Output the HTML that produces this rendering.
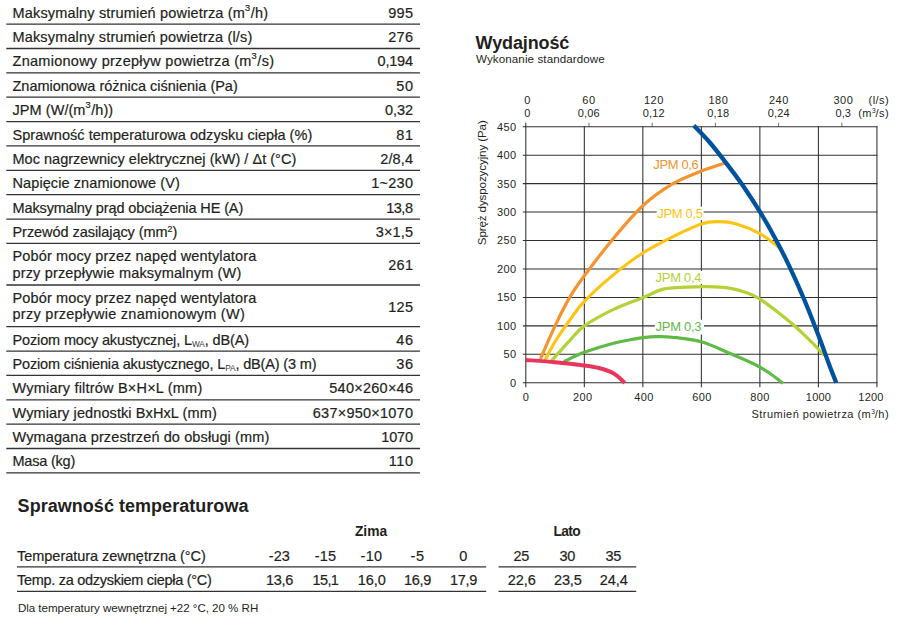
<!DOCTYPE html>
<html lang="pl"><head><meta charset="utf-8"><title>Dane techniczne</title>
<style>
html,body{margin:0;padding:0;background:#fff;}
body{width:899px;height:622px;position:relative;overflow:hidden;font-family:"Liberation Sans", sans-serif;color:#231f20;}
.t{position:absolute;white-space:nowrap;line-height:1;margin:0;padding:0;}
.m{-webkit-text-stroke:0.2px currentColor;}
.hl{position:absolute;height:0;border-top:1.5px solid #454343;}
.sp{font-size:64%;position:relative;top:-0.74em;letter-spacing:0;margin-right:0.6px;}
.sp2{font-size:60%;position:relative;top:-0.62em;letter-spacing:0;}
.sb{font-size:57%;position:relative;top:0.28em;letter-spacing:-0.1px;-webkit-text-stroke:0;color:#3c3a3a;}
.chart{position:absolute;left:0;top:0;}
.bg{background:#fff;}
</style></head><body>
<svg class="chart" width="899" height="622" viewBox="0 0 899 622" stroke="#343232" stroke-width="1.3">
<line x1="6.3" y1="24.10" x2="420" y2="24.10"/>
<line x1="6.3" y1="48.50" x2="420" y2="48.50"/>
<line x1="6.3" y1="72.80" x2="420" y2="72.80"/>
<line x1="6.3" y1="97.20" x2="420" y2="97.20"/>
<line x1="6.3" y1="121.60" x2="420" y2="121.60"/>
<line x1="6.3" y1="145.95" x2="420" y2="145.95"/>
<line x1="6.3" y1="170.30" x2="420" y2="170.30"/>
<line x1="6.3" y1="194.70" x2="420" y2="194.70"/>
<line x1="6.3" y1="219.10" x2="420" y2="219.10"/>
<line x1="6.3" y1="243.40" x2="420" y2="243.40"/>
<line x1="6.3" y1="285.00" x2="420" y2="285.00"/>
<line x1="6.3" y1="326.60" x2="420" y2="326.60"/>
<line x1="6.3" y1="351.05" x2="420" y2="351.05"/>
<line x1="6.3" y1="375.40" x2="420" y2="375.40"/>
<line x1="6.3" y1="399.80" x2="420" y2="399.80"/>
<line x1="6.3" y1="424.20" x2="420" y2="424.20"/>
<line x1="6.3" y1="448.50" x2="420" y2="448.50"/>
<line x1="6.3" y1="472.90" x2="420" y2="472.90"/>
<line x1="17" y1="566.80" x2="486.2" y2="566.80"/>
<line x1="498.5" y1="566.80" x2="636.2" y2="566.80"/>
<line x1="17" y1="591.35" x2="486.2" y2="591.35"/>
<line x1="498.5" y1="591.35" x2="636.2" y2="591.35"/>
</svg>
<svg class="chart" width="899" height="622" viewBox="0 0 899 622">
<line x1="525.80" y1="122.70" x2="525.80" y2="387.25" stroke="#302f2f" stroke-width="1.05"/>
<line x1="584.32" y1="126.20" x2="584.32" y2="387.25" stroke="#302f2f" stroke-width="1.05"/>
<line x1="642.84" y1="126.20" x2="642.84" y2="387.25" stroke="#302f2f" stroke-width="1.05"/>
<line x1="701.36" y1="126.20" x2="701.36" y2="387.25" stroke="#302f2f" stroke-width="1.05"/>
<line x1="759.88" y1="126.20" x2="759.88" y2="387.25" stroke="#302f2f" stroke-width="1.05"/>
<line x1="818.40" y1="126.20" x2="818.40" y2="387.25" stroke="#302f2f" stroke-width="1.05"/>
<line x1="876.92" y1="126.20" x2="876.92" y2="387.25" stroke="#302f2f" stroke-width="1.05"/>
<line x1="522.80" y1="382.75" x2="877.42" y2="382.75" stroke="#302f2f" stroke-width="1.05"/>
<line x1="522.80" y1="354.30" x2="877.42" y2="354.30" stroke="#302f2f" stroke-width="1.05"/>
<line x1="522.80" y1="325.85" x2="877.42" y2="325.85" stroke="#302f2f" stroke-width="1.05"/>
<line x1="522.80" y1="297.40" x2="877.42" y2="297.40" stroke="#302f2f" stroke-width="1.05"/>
<line x1="522.80" y1="268.95" x2="877.42" y2="268.95" stroke="#302f2f" stroke-width="1.05"/>
<line x1="522.80" y1="240.50" x2="877.42" y2="240.50" stroke="#302f2f" stroke-width="1.05"/>
<line x1="522.80" y1="212.05" x2="877.42" y2="212.05" stroke="#302f2f" stroke-width="1.05"/>
<line x1="522.80" y1="183.60" x2="877.42" y2="183.60" stroke="#302f2f" stroke-width="1.05"/>
<line x1="522.80" y1="155.15" x2="877.42" y2="155.15" stroke="#302f2f" stroke-width="1.05"/>
<line x1="522.80" y1="126.70" x2="877.42" y2="126.70" stroke="#302f2f" stroke-width="1.05"/>
<line x1="589.00" y1="122.70" x2="589.00" y2="126.70" stroke="#302f2f" stroke-width="0.7"/>
<line x1="652.20" y1="122.70" x2="652.20" y2="126.70" stroke="#302f2f" stroke-width="0.7"/>
<line x1="715.40" y1="122.70" x2="715.40" y2="126.70" stroke="#302f2f" stroke-width="0.7"/>
<line x1="778.61" y1="122.70" x2="778.61" y2="126.70" stroke="#302f2f" stroke-width="0.7"/>
<line x1="841.81" y1="122.70" x2="841.81" y2="126.70" stroke="#302f2f" stroke-width="0.7"/>
<rect x="656.7" y="206.6" width="47.0" height="13.5" fill="#fff"/>
<rect x="654.8" y="270.9" width="49.2" height="12.9" fill="#fff"/>
<rect x="654.8" y="319.8" width="49.2" height="14.8" fill="#fff"/>
<path d="M563.84 361.70 C567.25 360.13 576.03 355.39 584.32 352.31 C592.61 349.23 605.63 345.34 613.58 343.20 C621.53 341.07 627.14 340.44 632.01 339.51 C636.89 338.58 638.60 338.10 642.84 337.63 C647.08 337.15 652.59 336.73 657.47 336.66 C662.35 336.59 664.78 336.38 672.10 337.23 C679.41 338.08 691.61 339.03 701.36 341.78 C711.11 344.53 721.84 350.03 730.62 353.73 C739.40 357.43 747.69 360.84 754.03 363.97 C760.37 367.10 763.83 369.28 768.66 372.51 C773.49 375.73 780.61 381.52 783.00 383.32" fill="none" stroke="#5fba46" stroke-width="3.20" stroke-linecap="butt" stroke-linejoin="round"/>
<path d="M551.26 361.13 C554.33 357.71 564.18 346.52 569.69 340.64 C575.20 334.76 577.00 331.07 584.32 325.85 C591.63 320.63 603.83 314.04 613.58 309.35 C623.33 304.65 634.55 301.05 642.84 297.68 C651.13 294.32 656.01 290.90 663.32 289.15 C670.64 287.40 679.41 287.58 686.73 287.16 C694.05 286.73 699.90 286.40 707.21 286.59 C714.53 286.78 724.28 287.35 730.62 288.30 C736.96 289.24 740.37 290.48 745.25 292.28 C750.13 294.08 752.57 294.27 759.88 299.11 C767.19 303.94 780.85 314.47 789.14 321.30 C797.43 328.13 803.77 334.38 809.62 340.07 C815.47 345.76 821.81 352.88 824.25 355.44" fill="none" stroke="#b2d235" stroke-width="3.20" stroke-linecap="butt" stroke-linejoin="round"/>
<path d="M545.11 359.99 C546.77 356.96 550.96 348.42 555.06 341.78 C559.16 335.14 564.81 326.89 569.69 320.16 C574.57 313.43 577.00 308.97 584.32 301.38 C591.63 293.80 603.83 282.70 613.58 274.64 C623.33 266.58 633.09 259.28 642.84 253.02 C652.59 246.76 662.35 241.92 672.10 237.09 C681.85 232.25 693.56 226.56 701.36 224.00 C709.16 221.44 713.06 221.72 718.92 221.72 C724.77 221.72 729.64 222.01 736.47 224.00 C743.30 225.99 752.57 229.59 759.88 233.67 C767.19 237.75 776.95 246.00 780.36 248.47" fill="none" stroke="#ffc413" stroke-width="3.20" stroke-linecap="butt" stroke-linejoin="round"/>
<path d="M540.43 358.85 C542.87 353.35 550.18 336.09 555.06 325.85 C559.94 315.61 564.81 305.75 569.69 297.40 C574.57 289.05 577.00 285.64 584.32 275.78 C591.63 265.92 603.83 249.89 613.58 238.22 C623.33 226.56 633.09 214.80 642.84 205.79 C652.59 196.78 662.35 189.95 672.10 184.17 C681.85 178.38 692.24 174.69 701.36 171.08 C710.48 167.48 722.57 163.97 726.82 162.55" fill="none" stroke="#f4932f" stroke-width="3.20" stroke-linecap="butt" stroke-linejoin="round"/>
<path d="M693.75 125.56 C696.29 128.22 703.55 135.24 708.97 141.49 C714.38 147.75 720.48 155.62 726.23 163.12 C731.99 170.61 737.79 178.19 743.49 186.45 C749.20 194.70 755.25 204.08 760.47 212.62 C765.68 221.15 770.02 228.79 774.80 237.66 C779.58 246.52 784.31 255.67 789.14 265.82 C793.97 275.97 798.84 286.83 803.77 298.54 C808.70 310.25 814.50 325.19 818.69 336.09 C822.89 347.00 826.01 356.20 828.93 363.97 C831.86 371.75 835.03 379.62 836.25 382.75" fill="none" stroke="#00529f" stroke-width="4.30" stroke-linecap="butt" stroke-linejoin="round"/>
<path d="M525.80 359.99 C530.68 360.35 545.31 361.25 555.06 362.15 C564.81 363.05 577.00 364.43 584.32 365.40 C591.63 366.36 594.56 366.87 598.95 367.96 C603.34 369.05 607.48 370.52 610.65 371.94 C613.82 373.36 615.63 374.64 617.97 376.49 C620.31 378.34 623.58 381.94 624.70 383.03" fill="none" stroke="#e9345b" stroke-width="4.00" stroke-linecap="butt" stroke-linejoin="round"/>
</svg>
<div class="t m" id="t0" style="font-size:14.50px;top:6.00px;letter-spacing:0.166px;left:12.50px;">Maksymalny strumień powietrza (m<span class="sp">3</span>/h)</div>
<div class="t m" id="t1" style="font-size:14.50px;top:6.00px;letter-spacing:0.265px;right:485.74px;">995</div>
<div class="t m" id="t2" style="font-size:14.50px;top:30.00px;letter-spacing:0.154px;left:12.50px;">Maksymalny strumień powietrza (l/s)</div>
<div class="t m" id="t3" style="font-size:14.50px;top:30.00px;letter-spacing:0.265px;right:485.74px;">276</div>
<div class="t m" id="t4" style="font-size:14.50px;top:54.00px;letter-spacing:0.269px;left:12.50px;">Znamionowy przepływ powietrza (m<span class="sp">3</span>/s)</div>
<div class="t m" id="t5" style="font-size:14.50px;top:54.00px;letter-spacing:-0.216px;right:486.22px;">0,194</div>
<div class="t m" id="t6" style="font-size:14.50px;top:79.00px;letter-spacing:-0.013px;left:12.50px;">Znamionowa różnica ciśnienia (Pa)</div>
<div class="t m" id="t7" style="font-size:14.50px;top:79.00px;letter-spacing:0.592px;right:485.41px;">50</div>
<div class="t m" id="t8" style="font-size:14.50px;top:103.00px;letter-spacing:0.058px;left:12.50px;">JPM (W/(m<span class="sp">3</span>/h))</div>
<div class="t m" id="t9" style="font-size:14.50px;top:103.00px;letter-spacing:-0.101px;right:486.10px;">0,32</div>
<div class="t m" id="t10" style="font-size:14.50px;top:128.00px;letter-spacing:0.038px;left:12.50px;">Sprawność temperaturowa odzysku ciepła (%)</div>
<div class="t m" id="t11" style="font-size:14.50px;top:128.00px;letter-spacing:0.592px;right:485.41px;">81</div>
<div class="t m" id="t12" style="font-size:14.50px;top:152.00px;letter-spacing:0.018px;left:12.50px;">Moc nagrzewnicy elektrycznej (kW) / Δt (°C)</div>
<div class="t m" id="t13" style="font-size:14.50px;top:152.00px;letter-spacing:0.121px;right:485.88px;">2/8,4</div>
<div class="t m" id="t14" style="font-size:14.50px;top:176.00px;letter-spacing:0.092px;left:12.50px;">Napięcie znamionowe (V)</div>
<div class="t m" id="t15" style="font-size:14.50px;top:176.00px;letter-spacing:0.250px;right:485.75px;">1~230</div>
<div class="t m" id="t16" style="font-size:14.50px;top:201.00px;letter-spacing:-0.118px;left:12.50px;">Maksymalny prąd obciążenia HE (A)</div>
<div class="t m" id="t17" style="font-size:14.50px;top:201.00px;letter-spacing:-0.467px;right:486.47px;">13,8</div>
<div class="t m" id="t18" style="font-size:14.50px;top:225.00px;letter-spacing:-0.056px;left:12.50px;">Przewód zasilający (mm<span class="sp2">2</span>)</div>
<div class="t m" id="t19" style="font-size:14.50px;top:225.00px;letter-spacing:0.132px;right:485.87px;">3×1,5</div>
<div class="t m" id="t20" style="font-size:14.50px;top:249.00px;letter-spacing:0.132px;left:12.50px;">Pobór mocy przez napęd wentylatora</div>
<div class="t m" id="t21" style="font-size:14.50px;top:266.00px;letter-spacing:0.158px;left:12.50px;">przy przepływie maksymalnym (W)</div>
<div class="t m" id="t22" style="font-size:14.50px;top:258.00px;letter-spacing:0.265px;right:485.74px;">261</div>
<div class="t m" id="t23" style="font-size:14.50px;top:291.00px;letter-spacing:0.132px;left:12.50px;">Pobór mocy przez napęd wentylatora</div>
<div class="t m" id="t24" style="font-size:14.50px;top:307.00px;letter-spacing:0.274px;left:12.50px;">przy przepływie znamionowym (W)</div>
<div class="t m" id="t25" style="font-size:14.50px;top:300.00px;letter-spacing:0.265px;right:485.74px;">125</div>
<div class="t m" id="t26" style="font-size:14.50px;top:333.00px;letter-spacing:-0.136px;left:12.50px;">Poziom mocy akustycznej, L<span class="sb">WA</span>, dB(A)</div>
<div class="t m" id="t27" style="font-size:14.50px;top:333.00px;letter-spacing:0.592px;right:485.41px;">46</div>
<div class="t m" id="t28" style="font-size:14.50px;top:357.00px;letter-spacing:-0.154px;left:12.50px;">Poziom ciśnienia akustycznego, L<span class="sb">PA</span>, dB(A) (3 m)</div>
<div class="t m" id="t29" style="font-size:14.50px;top:357.00px;letter-spacing:0.592px;right:485.41px;">36</div>
<div class="t m" id="t30" style="font-size:14.50px;top:381.00px;letter-spacing:0.204px;left:12.50px;">Wymiary filtrów B×H×L (mm)</div>
<div class="t m" id="t31" style="font-size:14.50px;top:381.00px;letter-spacing:0.253px;right:485.75px;">540×260×46</div>
<div class="t m" id="t32" style="font-size:14.50px;top:406.00px;letter-spacing:0.099px;left:12.50px;">Wymiary jednostki BxHxL (mm)</div>
<div class="t m" id="t33" style="font-size:14.50px;top:406.00px;letter-spacing:0.241px;right:485.76px;">637×950×1070</div>
<div class="t m" id="t34" style="font-size:14.50px;top:430.00px;letter-spacing:0.112px;left:12.50px;">Wymagana przestrzeń do obsługi (mm)</div>
<div class="t m" id="t35" style="font-size:14.50px;top:430.00px;letter-spacing:-0.178px;right:486.18px;">1070</div>
<div class="t m" id="t36" style="font-size:14.50px;top:454.00px;letter-spacing:-0.217px;left:12.50px;">Masa (kg)</div>
<div class="t m" id="t37" style="font-size:14.50px;top:454.00px;letter-spacing:0.554px;right:485.45px;">110</div>
<div class="t" id="t38" style="font-size:18.00px;top:497.00px;font-weight:700;letter-spacing:0.035px;left:17.60px;">Sprawność temperaturowa</div>
<div class="t" id="t39" style="font-size:13.80px;top:525.00px;font-weight:700;letter-spacing:-0.010px;left:354.91px;">Zima</div>
<div class="t" id="t40" style="font-size:13.80px;top:525.00px;font-weight:700;letter-spacing:-0.651px;left:553.51px;">Lato</div>
<div class="t m" id="t41" style="font-size:14.50px;top:549.00px;letter-spacing:-0.027px;left:17.00px;">Temperatura zewnętrzna (°C)</div>
<div class="t m" id="t42" style="font-size:14.50px;top:573.00px;letter-spacing:-0.290px;left:17.00px;">Temp. za odzyskiem ciepła (°C)</div>
<div class="t m" id="t43" style="font-size:14.50px;top:549.00px;letter-spacing:0.132px;left:268.68px;">-23</div>
<div class="t m" id="t44" style="font-size:14.50px;top:573.00px;letter-spacing:-0.334px;left:266.08px;">13,6</div>
<div class="t m" id="t45" style="font-size:14.50px;top:549.00px;letter-spacing:0.182px;left:314.63px;">-15</div>
<div class="t m" id="t46" style="font-size:14.50px;top:573.00px;letter-spacing:-0.601px;left:312.48px;">15,1</div>
<div class="t m" id="t47" style="font-size:14.50px;top:549.00px;letter-spacing:0.382px;left:360.43px;">-10</div>
<div class="t m" id="t48" style="font-size:14.50px;top:573.00px;letter-spacing:-0.034px;left:357.63px;">16,0</div>
<div class="t m" id="t49" style="font-size:14.50px;top:549.00px;letter-spacing:0.626px;left:410.53px;">-5</div>
<div class="t m" id="t50" style="font-size:14.50px;top:573.00px;letter-spacing:-0.334px;left:404.08px;">16,9</div>
<div class="t m" id="t51" style="font-size:14.50px;top:549.00px;left:459.26px;">0</div>
<div class="t m" id="t52" style="font-size:14.50px;top:573.00px;letter-spacing:-0.334px;left:450.08px;">17,9</div>
<div class="t m" id="t53" style="font-size:14.50px;top:549.00px;letter-spacing:-0.308px;left:513.38px;">25</div>
<div class="t m" id="t54" style="font-size:14.50px;top:573.00px;letter-spacing:-0.034px;left:507.63px;">22,6</div>
<div class="t m" id="t55" style="font-size:14.50px;top:549.00px;letter-spacing:-0.208px;left:559.53px;">30</div>
<div class="t m" id="t56" style="font-size:14.50px;top:573.00px;letter-spacing:-0.167px;left:554.03px;">23,5</div>
<div class="t m" id="t57" style="font-size:14.50px;top:549.00px;letter-spacing:-0.308px;left:605.38px;">35</div>
<div class="t m" id="t58" style="font-size:14.50px;top:573.00px;letter-spacing:-0.034px;left:599.63px;">24,4</div>
<div class="t" id="t59" style="font-size:11.60px;top:602.00px;letter-spacing:-0.041px;left:17.90px;">Dla temperatury wewnętrznej +22 °C, 20 % RH</div>
<div class="t" id="t60" style="font-size:18.00px;top:34.00px;font-weight:700;letter-spacing:-0.122px;left:475.60px;">Wydajność</div>
<div class="t" id="t61" style="font-size:11.60px;top:53.00px;letter-spacing:0.096px;left:476.00px;">Wykonanie standardowe</div>
<div class="t" id="t62" style="font-size:11.00px;top:95.00px;left:524.24px;">0</div>
<div class="t" id="t63" style="font-size:11.00px;top:108.00px;left:524.24px;">0</div>
<div class="t" id="t64" style="font-size:11.00px;top:95.00px;letter-spacing:0.485px;left:582.33px;">60</div>
<div class="t" id="t65" style="font-size:11.00px;top:108.00px;letter-spacing:0.171px;left:577.73px;">0,06</div>
<div class="t" id="t66" style="font-size:11.00px;top:95.00px;letter-spacing:0.538px;left:643.88px;">120</div>
<div class="t" id="t67" style="font-size:11.00px;top:108.00px;letter-spacing:0.171px;left:642.63px;">0,12</div>
<div class="t" id="t68" style="font-size:11.00px;top:95.00px;letter-spacing:0.538px;left:708.48px;">180</div>
<div class="t" id="t69" style="font-size:11.00px;top:108.00px;letter-spacing:0.171px;left:707.23px;">0,18</div>
<div class="t" id="t70" style="font-size:11.00px;top:95.00px;letter-spacing:0.538px;left:768.98px;">240</div>
<div class="t" id="t71" style="font-size:11.00px;top:108.00px;letter-spacing:0.171px;left:767.73px;">0,24</div>
<div class="t" id="t72" style="font-size:11.00px;top:95.00px;letter-spacing:0.538px;left:833.48px;">300</div>
<div class="t" id="t73" style="font-size:11.00px;top:108.00px;letter-spacing:0.069px;left:835.48px;">0,3</div>
<div class="t" id="t74" style="font-size:11.00px;top:95.00px;letter-spacing:0.427px;right:9.97px;">(l/s)</div>
<div class="t" id="t75" style="font-size:11.00px;top:108.00px;letter-spacing:0.400px;right:10.00px;">(m<span class="sp2">3</span>/s)</div>
<div class="t" id="t76" style="font-size:11.00px;top:378.00px;right:382.80px;">0</div>
<div class="t" id="t77" style="font-size:11.00px;top:349.00px;letter-spacing:0.485px;right:382.31px;">50</div>
<div class="t" id="t78" style="font-size:11.00px;top:321.00px;letter-spacing:0.438px;right:382.36px;">100</div>
<div class="t" id="t79" style="font-size:11.00px;top:292.00px;letter-spacing:0.438px;right:382.36px;">150</div>
<div class="t" id="t80" style="font-size:11.00px;top:264.00px;letter-spacing:0.438px;right:382.36px;">200</div>
<div class="t" id="t81" style="font-size:11.00px;top:235.00px;letter-spacing:0.438px;right:382.36px;">250</div>
<div class="t" id="t82" style="font-size:11.00px;top:207.00px;letter-spacing:0.438px;right:382.36px;">300</div>
<div class="t" id="t83" style="font-size:11.00px;top:179.00px;letter-spacing:0.438px;right:382.36px;">350</div>
<div class="t" id="t84" style="font-size:11.00px;top:150.00px;letter-spacing:0.438px;right:382.36px;">400</div>
<div class="t" id="t85" style="font-size:11.00px;top:122.00px;letter-spacing:0.438px;right:382.36px;">450</div>
<div class="t" id="t86" style="font-size:11.00px;top:392.00px;left:522.74px;">0</div>
<div class="t" id="t87" style="font-size:11.00px;top:392.00px;letter-spacing:0.438px;left:572.90px;">200</div>
<div class="t" id="t88" style="font-size:11.00px;top:392.00px;letter-spacing:0.438px;left:634.22px;">400</div>
<div class="t" id="t89" style="font-size:11.00px;top:392.00px;letter-spacing:0.438px;left:692.24px;">600</div>
<div class="t" id="t90" style="font-size:11.00px;top:392.00px;letter-spacing:0.438px;left:750.26px;">800</div>
<div class="t" id="t91" style="font-size:11.00px;top:392.00px;letter-spacing:0.217px;left:805.83px;">1000</div>
<div class="t" id="t92" style="font-size:11.00px;top:392.00px;letter-spacing:0.217px;left:858.35px;">1200</div>
<div class="t" id="t93" style="font-size:11.00px;top:409.00px;letter-spacing:0.457px;right:9.94px;">Strumień powietrza (m<span class="sp2">3</span>/h)</div>
<div class="t" id="t94" style="font-size:11.60px;letter-spacing:-0.118px;left:418.87px;top:177.20px;width:124.87px;text-align:center;transform:rotate(-90deg);transform-origin:50% 50%;">Spręż dyspozycyjny (Pa)</div>
<div class="t" id="t95" style="font-size:13.00px;top:158.00px;color:#f4932f;letter-spacing:-0.364px;left:653.30px;">JPM 0,6</div>
<div class="t" id="t96" style="font-size:13.00px;top:207.00px;color:#ffc413;letter-spacing:-0.297px;left:657.20px;">JPM 0,5</div>
<div class="t" id="t97" style="font-size:13.00px;top:271.00px;color:#b2d235;letter-spacing:-0.297px;left:655.60px;">JPM 0,4</div>
<div class="t" id="t98" style="font-size:13.00px;top:320.00px;color:#5fba46;letter-spacing:-0.297px;left:655.60px;">JPM 0,3</div>
</body></html>
